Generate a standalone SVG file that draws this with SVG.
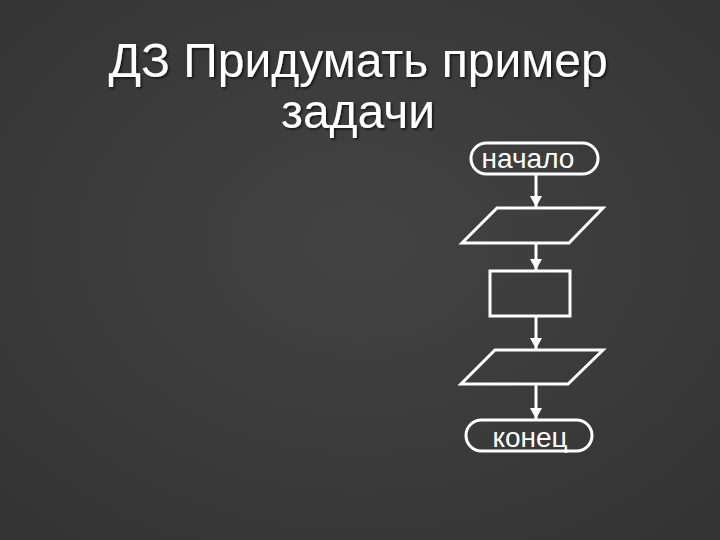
<svg xmlns="http://www.w3.org/2000/svg" width="720" height="540" viewBox="0 0 720 540">
<defs>
<radialGradient id="bg" cx="50%" cy="45%" r="75%">
<stop offset="0" stop-color="#434343"/>
<stop offset="1" stop-color="#333333"/>
</radialGradient>
<filter id="sh" x="-5%" y="-20%" width="110%" height="140%">
<feDropShadow dx="1.5" dy="1.5" stdDeviation="1" flood-color="#000" flood-opacity="0.7"/>
</filter>
<marker id="ah" markerWidth="12" markerHeight="12" refX="11" refY="6" orient="auto" markerUnits="userSpaceOnUse">
<path d="M0,0 L11,6 L0,12 Z" fill="#fff"/>
</marker>
</defs>
<style>
.title{font-family:"Liberation Sans",Arial,sans-serif;font-size:48px;fill:#fff;text-anchor:middle}
.lbl{font-family:"Liberation Sans",Arial,sans-serif;font-size:28px;fill:#fff;text-anchor:middle}
.shape{fill:none;stroke:#fff;stroke-width:3}
.conn{stroke:#fff;stroke-width:3;fill:none}
</style>
<rect width="720" height="540" fill="url(#bg)"/>
<g id="title" filter="url(#sh)">
<text class="title" x="358" y="77">ДЗ Придумать пример</text>
<text class="title" x="358" y="128">задачи</text>
</g>
<g id="start">
<rect class="shape" x="471" y="143" width="127" height="31" rx="15.5"/>
<text class="lbl" x="528" y="168">начало</text>
</g>
<g id="input">
<polygon class="shape" points="497,208 603,208 569,243 462,243"/>
</g>
<g id="process">
<rect class="shape" x="490" y="271" width="80" height="45"/>
</g>
<g id="output">
<polygon class="shape" points="495,350 603,350 568,384 461,384"/>
</g>
<g id="end">
<rect class="shape" x="466" y="420" width="126" height="31" rx="15.5"/>
<text class="lbl" x="530" y="447">конец</text>
</g>
<g id="connectors">
<line class="conn" x1="536" y1="174" x2="536" y2="207" marker-end="url(#ah)"/>
<line class="conn" x1="536" y1="243" x2="536" y2="270" marker-end="url(#ah)"/>
<line class="conn" x1="536" y1="316" x2="536" y2="349" marker-end="url(#ah)"/>
<line class="conn" x1="536" y1="384" x2="536" y2="419" marker-end="url(#ah)"/>
</g>
</svg>
